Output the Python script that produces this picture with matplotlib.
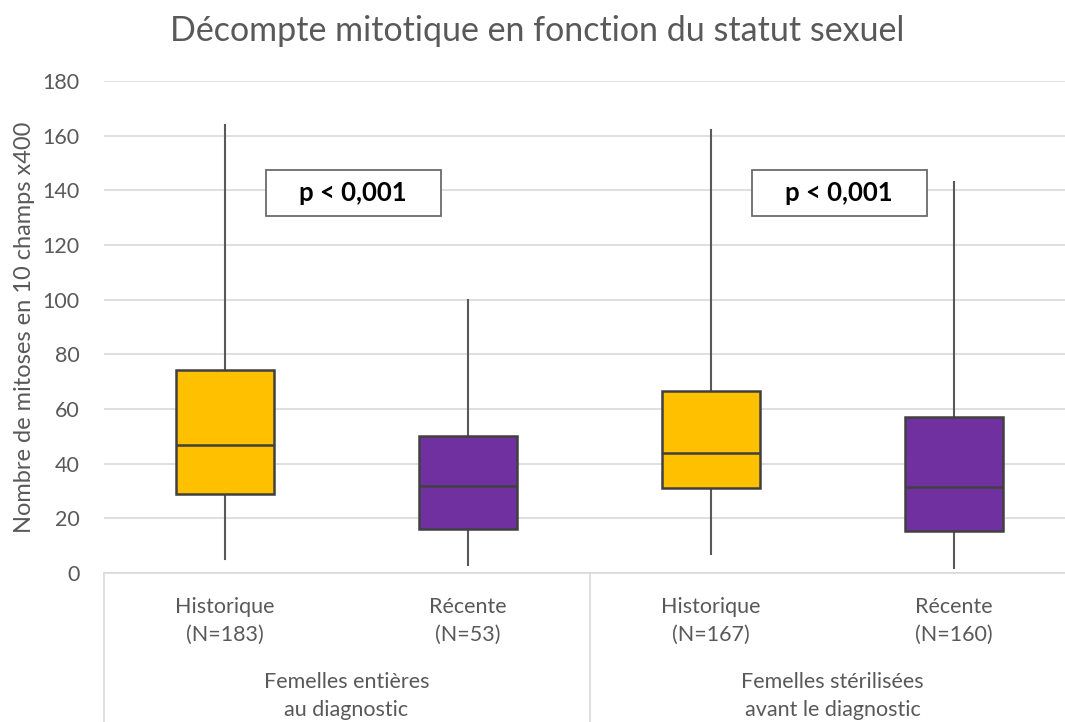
import matplotlib
matplotlib.use("Agg")
import matplotlib.pyplot as plt
from matplotlib.patches import Rectangle
import matplotlib.transforms as mtransforms

plt.rcParams['font.family'] = ['Lato', 'DejaVu Sans']

# ---- data ----
categories = ["Historique", "Récente", "Historique", "Récente"]
counts = ["(N=183)", "(N=53)", "(N=167)", "(N=160)"]
groups = ["Femelles entières\nau diagnostic", "Femelles stérilisées\navant le diagnostic"]
whisker_low = [5, 3, 7, 2]
q1 = [29, 16, 31, 15.5]
median = [47, 32, 44, 31.5]
q3 = [74.3, 50, 66.5, 57]
whisker_high = [164, 100, 162, 143]
box_colors = ["#FFC000", "#7030A0", "#FFC000", "#7030A0"]
yticks = [0, 20, 40, 60, 80, 100, 120, 140, 160, 180]
pvalues = ["p < 0,001", "p < 0,001"]

TXT = "#595959"
GRID = "#D9D9D9"

fig = plt.figure(figsize=(10.65, 7.22), dpi=100)
W, H = 1065, 722
left_px, right_px, bottom_px, top_px = 103.5, 1075.5, 573, 81
ax = fig.add_axes([left_px / W, (H - bottom_px) / H,
                   (right_px - left_px) / W, (bottom_px - top_px) / H])

stats = []
for i in range(len(categories)):
    stats.append(dict(whislo=whisker_low[i], q1=q1[i], med=median[i],
                      q3=q3[i], whishi=whisker_high[i], fliers=[]))
positions = list(range(len(categories)))
bp = ax.bxp(stats, positions=positions, widths=0.4, showcaps=False,
            showfliers=False, patch_artist=True,
            boxprops=dict(edgecolor="#404040", linewidth=1.8),
            medianprops=dict(color="#404040", linewidth=1.8),
            whiskerprops=dict(color="#595959", linewidth=1.5))
for patch, c in zip(bp['boxes'], box_colors):
    patch.set_facecolor(c)
    patch.set_zorder(3)
for m in bp['medians']:
    m.set_zorder(4)

ax.set_xlim(-0.5, len(categories) - 0.5)
ax.set_ylim(0, 180)
ax.set_yticks(yticks)
ax.yaxis.grid(True, color=GRID, linewidth=1.2)
ax.set_axisbelow(True)
for s in ["top", "right", "left"]:
    ax.spines[s].set_visible(False)
ax.spines["bottom"].set_color(GRID)
ax.spines["bottom"].set_linewidth(1.2)
ax.tick_params(axis="both", length=0, labelsize=15.5, colors=TXT)
ax.tick_params(axis="y", pad=17)
ax.set_xticks(positions)
ax.set_xticklabels([f"{c}\n{n}" for c, n in zip(categories, counts)],
                   linespacing=1.5)
ax.tick_params(axis="x", pad=17)

# group labels and separators
trans = mtransforms.blended_transform_factory(ax.transData, ax.transAxes)
for gi, g in enumerate(groups):
    xc = gi * 2 + 0.5
    ax.text(xc, -0.249, g, transform=trans, ha="center", va="center",
            fontsize=15.5, color=TXT, linespacing=1.5)
for xs in [-0.5, 1.5, 3.5]:
    ax.plot([xs, xs], [0, -0.32], transform=trans, color=GRID, lw=1.2,
            clip_on=False)

# p-value boxes
for gi, p in enumerate(pvalues):
    xc = gi * 2 + 0.527
    yc = 139
    ax.add_patch(Rectangle((xc - 0.36, yc - 8.4), 0.72, 16.8,
                           facecolor="white", edgecolor="#6b6b6b",
                           linewidth=1.3, zorder=5))
    ax.text(xc, yc, p, ha="center", va="center", fontsize=18.5,
            fontweight="bold", color="black", zorder=6)

ax.set_ylabel("Nombre de mitoses en 10 champs x400", fontsize=17,
              color=TXT)
ax.yaxis.set_label_coords(-0.07, 0.5)

fig.text(537 / W, 1 - 31 / H, "Décompte mitotique en fonction du statut sexuel",
         ha="center", va="center", fontsize=24.5, color=TXT)

fig.savefig("out.png", dpi=100)
